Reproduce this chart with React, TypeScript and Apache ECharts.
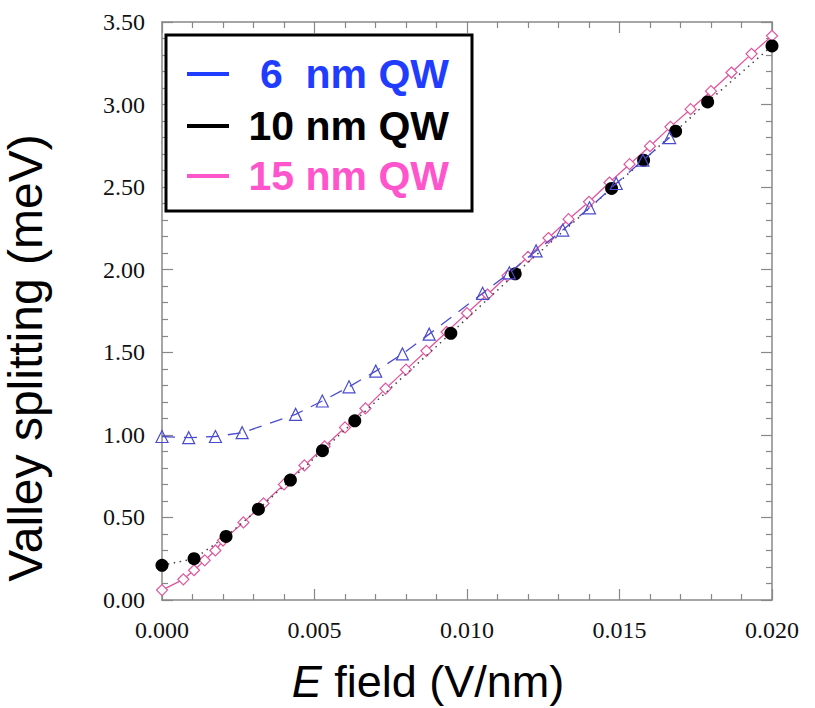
import React, { useEffect, useRef } from "react";
import * as echarts from "echarts";

// ---- data ----
const qw6X = [0, 0.000876, 0.001752, 0.002628, 0.00438, 0.005256, 0.006132, 0.007008, 0.007884, 0.00876, 0.010512, 0.011388, 0.012264, 0.01314, 0.014016, 0.014892, 0.015768, 0.016644];
const qw6Y = [0.99, 0.983, 0.99, 1.013, 1.124, 1.205, 1.291, 1.386, 1.49, 1.61, 1.857, 1.981, 2.114, 2.24, 2.375, 2.522, 2.663, 2.8];

const qw10X = [0, 0.00105, 0.0021, 0.00316, 0.00421, 0.00526, 0.00632, 0.00947, 0.01158, 0.01474, 0.01579, 0.01684, 0.01789, 0.02];
const qw10Y = [0.21, 0.25, 0.385, 0.55, 0.726, 0.904, 1.085, 1.615, 1.975, 2.492, 2.663, 2.839, 3.016, 3.355];

const qw15X = [0, 0.0007, 0.00105, 0.0014, 0.00175, 0.002, 0.00267, 0.00333, 0.004, 0.00467, 0.00533, 0.006, 0.00667, 0.00733, 0.008, 0.00867, 0.00933, 0.01, 0.01067, 0.01133, 0.012, 0.01267, 0.01333, 0.014, 0.01467, 0.01533, 0.016, 0.01667, 0.01733, 0.018, 0.01867, 0.01933, 0.02];
const qw15Y = [0.06, 0.125, 0.18, 0.24, 0.3, 0.36, 0.47, 0.585, 0.7, 0.815, 0.93, 1.045, 1.16, 1.28, 1.395, 1.509, 1.623, 1.737, 1.85, 1.964, 2.078, 2.192, 2.306, 2.411, 2.528, 2.639, 2.748, 2.865, 2.972, 3.081, 3.194, 3.307, 3.416];

const legendNames = ["6  nm QW", "10 nm QW", "15 nm QW"];
const legendColors = ["#1f3cff", "#000000", "#ff55cc"];

const xMin = 0, xMax = 0.02, xInterval = 0.005;
const yMin = 0, yMax = 3.5, yInterval = 0.5;

const zip = (xs: number[], ys: number[]) => xs.map((x, i) => [x, ys[i]]);

export default function App() {
  const ref = useRef<HTMLDivElement>(null);
  useEffect(() => {
    document.body.style.margin = "0";
    const chart = echarts.init(ref.current!, null, { renderer: "svg" });
    const axisColor = "#888888";
    const baseX = {
      type: "value" as const,
      min: xMin,
      max: xMax,
      interval: xInterval,
      splitLine: { show: false },
      axisLine: { show: true, onZero: false, lineStyle: { color: axisColor, width: 1.5 } },
      axisTick: { show: true, inside: true, length: 11, lineStyle: { color: axisColor, width: 1.2 } },
      minorTick: { show: true, splitNumber: 5, length: 6, lineStyle: { color: axisColor, width: 1.2 } },
    };
    const baseY = {
      type: "value" as const,
      min: yMin,
      max: yMax,
      interval: yInterval,
      splitLine: { show: false },
      axisLine: { show: true, onZero: false, lineStyle: { color: axisColor, width: 1.5 } },
      axisTick: { show: true, inside: true, length: 11, lineStyle: { color: axisColor, width: 1.2 } },
      minorTick: { show: true, splitNumber: 5, length: 6, lineStyle: { color: axisColor, width: 1.2 } },
    };
    const labelStyle = { fontFamily: "Liberation Serif", fontSize: 24, color: "#111" };
    chart.setOption({
      animation: false,
      backgroundColor: "#ffffff",
      grid: { left: 162, right: 43, top: 22, bottom: 108 },
      xAxis: [
        { ...baseX, position: "bottom", axisLabel: { ...labelStyle, margin: 18, formatter: (v: number) => v.toFixed(3) } },
        { ...baseX, position: "top", axisLabel: { show: false } },
      ],
      yAxis: [
        { ...baseY, position: "left", axisLabel: { ...labelStyle, margin: 17, formatter: (v: number) => v.toFixed(2) } },
        { ...baseY, position: "right", axisLabel: { show: false } },
      ],
      series: [
        {
          name: "15 nm QW",
          type: "line",
          data: zip(qw15X, qw15Y),
          z: 2,
          symbol: "diamond",
          symbolSize: 11,
          lineStyle: { color: "#e0559c", width: 1.3 },
          itemStyle: { color: "#ffffff", borderColor: "#e0559c", borderWidth: 1.2 },
        },
        {
          name: "10 nm QW",
          type: "line",
          data: zip(qw10X, qw10Y),
          z: 3,
          symbol: "circle",
          symbolSize: 13,
          lineStyle: { color: "#444444", width: 1.5, type: [1.5, 4.5] },
          itemStyle: { color: "#000000", borderColor: "#000000", borderWidth: 0 },
        },
        {
          name: "6  nm QW",
          type: "line",
          data: zip(qw6X, qw6Y),
          z: 4,
          symbol: "triangle",
          symbolSize: 12,
          lineStyle: { color: "#4b4bd0", width: 1.3, type: [13, 9] },
          itemStyle: { color: "rgba(255,255,255,0)", borderColor: "#4b4bd0", borderWidth: 1.2 },
        },
      ],
      graphic: [
        {
          type: "rect",
          z: 100,
          shape: { x: 166, y: 35, width: 306, height: 176 },
          style: { fill: "#ffffff", stroke: "#000000", lineWidth: 3 },
        },
        ...legendNames.flatMap((name, i) => {
          const cy = [74, 126, 176][i];
          return [
            {
              type: "line",
              z: 101,
              shape: { x1: 187, y1: cy, x2: 229, y2: cy },
              style: { stroke: legendColors[i], lineWidth: 4 },
            },
            {
              type: "text",
              z: 101,
              x: 449,
              y: cy,
              style: {
                text: name,
                fill: legendColors[i],
                font: "bold 41px 'Liberation Sans', Arial, sans-serif",
                align: "right",
                verticalAlign: "middle",
              },
            },
          ];
        }),
        {
          type: "text",
          x: 25,
          y: 358,
          rotation: Math.PI / 2,
          style: {
            text: "Valley splitting (meV)",
            fill: "#000",
            font: "48px 'Liberation Sans', Arial, sans-serif",
            lineHeight: 44,
            align: "center",
            verticalAlign: "middle",
          },
        },
        {
          type: "text",
          x: 428,
          y: 681,
          style: {
            text: "{i|E} field (V/nm)",
            fill: "#000",
            font: "45px 'Liberation Sans', Arial, sans-serif",
            lineHeight: 40,
            align: "center",
            verticalAlign: "middle",
            rich: {
              i: { fontStyle: "italic", fontSize: 45, lineHeight: 40, fontFamily: "'Liberation Sans', Arial, sans-serif", fill: "#000" },
            },
          },
        },
      ],
    });
    return () => chart.dispose();
  }, []);
  return <div ref={ref} style={{ width: 815, height: 708 }} />;
}
